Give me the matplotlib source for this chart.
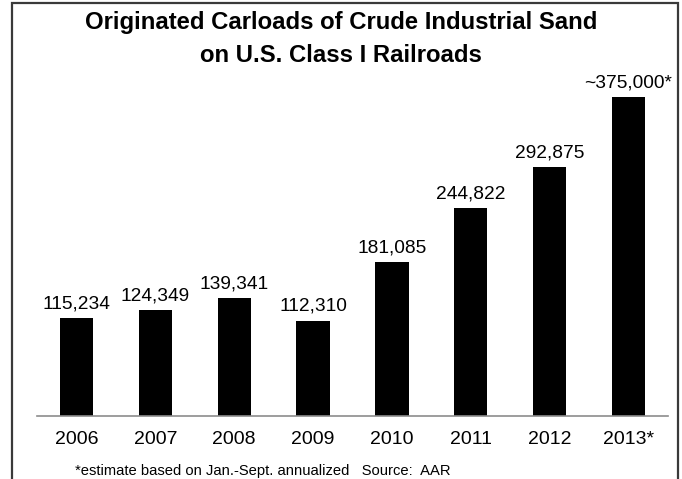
import matplotlib.pyplot as plt
from matplotlib.patches import Rectangle

plt.rcParams['font.family'] = ['Liberation Sans', 'DejaVu Sans']

years = ["2006", "2007", "2008", "2009", "2010", "2011", "2012", "2013*"]
carloads = [115234, 124349, 139341, 112310, 181085, 244822, 292875, 375000]
labels = ["115,234", "124,349", "139,341", "112,310", "181,085", "244,822", "292,875", "~375,000*"]
title_lines = ["Originated Carloads of Crude Industrial Sand", "on U.S. Class I Railroads"]

W, H = 682, 479
fig = plt.figure(figsize=(W / 100, H / 100), dpi=100)

# plot area in pixel terms
x0, x1 = 37, 668
ybase, ytop = 416, 59
ax = fig.add_axes([x0 / W, 1 - ybase / H, (x1 - x0) / W, (ybase - ytop) / H])

x = range(len(years))
ax.bar(x, carloads, width=0.42, color="black")
for xi, v, lab in zip(x, carloads, labels):
    ax.annotate(lab, (xi, v), xytext=(0, 4), textcoords="offset points",
                ha="center", va="bottom", fontsize=13.8)

ax.set_xlim(-0.5, len(years) - 0.5)
ax.set_ylim(0, 420000)
ax.set_xticks(list(x))
ax.set_xticklabels(years, fontsize=14)
ax.tick_params(axis="x", length=0, pad=11)
ax.set_yticks([])
for s in ["top", "right", "left"]:
    ax.spines[s].set_visible(False)
ax.spines["bottom"].set_color("#8c8c8c")
ax.spines["bottom"].set_linewidth(1.2)

for ty, line in zip([22, 55], title_lines):
    fig.text(0.5, 1 - ty / H, line, ha="center", va="center",
             fontsize=17.2, fontweight="bold")
fig.text(75 / W, 1 - 471 / H, "*estimate based on Jan.-Sept. annualized   Source:  AAR",
         ha="left", va="center", fontsize=10.6)

# outer frame
fig.patches.append(Rectangle((12 / W, -0.05), (678 - 12) / W, 1.05 - 3 / H,
                             transform=fig.transFigure, fill=False,
                             edgecolor="#3a3a3a", linewidth=1.6))

fig.savefig("out.png", dpi=100)
